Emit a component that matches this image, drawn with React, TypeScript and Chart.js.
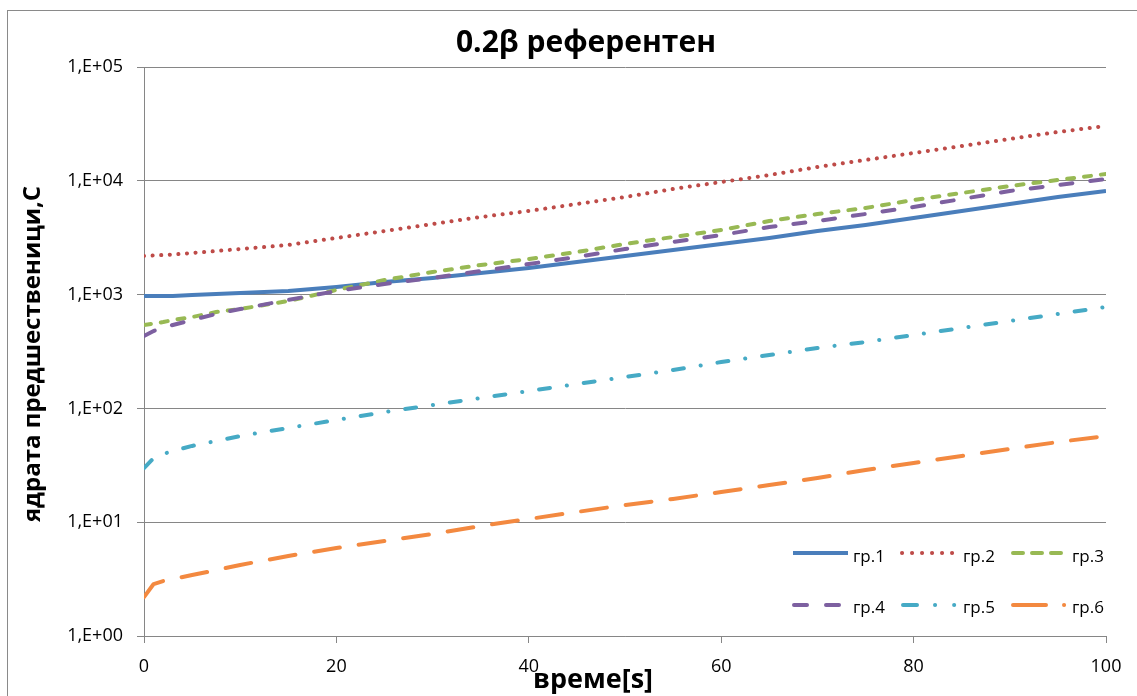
import React, { useEffect, useRef } from "react";
import { Chart, registerables } from "chart.js";

Chart.register(...registerables);

const FONT = '"Open Sans", "Noto Sans", sans-serif';

// ---- texts ----
const chartTitle = "0.2β референтен";
const xAxisTitle = "време[s]";
const yAxisTitle = "ядрата предшественици,C";
const seriesNames = ["гр.1", "гр.2", "гр.3", "гр.4", "гр.5", "гр.6"];

// ---- data ----
const times = [0, 1, 2, 3, 5, 7.5, 10, 15, 20, 25, 30, 35, 40, 45, 50, 55, 60, 65, 70, 75, 80, 85, 90, 95, 100];
const gr1 = [973, 973, 973, 973, 992, 1012, 1032, 1076, 1166, 1291, 1400, 1549, 1714, 1933, 2183, 2466, 2786, 3143, 3620, 4090, 4713, 5428, 6255, 7204, 8136];
const gr2 = [2183, 2208, 2228, 2250, 2321, 2415, 2516, 2728, 3143, 3620, 4171, 4806, 5428, 6255, 7204, 8472, 9756, 11240, 13220, 15230, 17550, 20220, 23300, 26840, 30320];
const gr3 = [541, 557, 574, 598, 635, 703, 747, 879, 1097, 1343, 1580, 1820, 2055, 2367, 2786, 3206, 3696, 4434, 5108, 5768, 6779, 7810, 8998, 10160, 11480];
const gr4 = [433, 479, 509, 541, 598, 676, 747, 897, 1076, 1239, 1400, 1611, 1857, 2140, 2516, 2899, 3340, 3926, 4434, 5108, 5883, 6918, 8136, 9183, 10370];
const gr5 = [29.9, 36.6, 39.7, 42.3, 46.8, 51.7, 57.2, 67.3, 79.1, 92.9, 107.1, 123.4, 142.2, 163.8, 188.7, 217.4, 255.6, 294.5, 339.5, 383.1, 441.4, 508.9, 586.4, 675.6, 778.5];
const gr6 = [2.2, 2.86, 3.04, 3.17, 3.43, 3.8, 4.21, 5.05, 5.93, 6.84, 7.87, 9.26, 10.67, 12.3, 14.17, 16.0, 18.43, 21.23, 24.46, 28.77, 33.14, 38.17, 43.97, 50.65, 57.2];
const seriesValues = [gr1, gr2, gr3, gr4, gr5, gr6];

// ---- ticks ----
const xTicks = [0, 20, 40, 60, 80, 100];
const yTickValues = [1, 10, 100, 1000, 10000, 100000];
const yTickLabels = ["1,E+00", "1,E+01", "1,E+02", "1,E+03", "1,E+04", "1,E+05"];

// ---- styles ----
const seriesStyles = [
  { color: "#4A7EBB", dash: [] as number[], cap: "butt", legendDash: [] as number[], lx0: 793, lx1: 848 },
  { color: "#BE4B48", dash: [0.1, 8.5], cap: "round", legendDash: [0.1, 9.9], lx0: 902, lx1: 953 },
  { color: "#98B954", dash: [7, 10], cap: "round", legendDash: [10, 9], lx0: 1013, lx1: 1061 },
  { color: "#7D60A0", dash: [12, 18], cap: "round", legendDash: [13, 19], lx0: 794, lx1: 840 },
  { color: "#46AAC5", dash: [11, 17, 0.1, 17], cap: "round", legendDash: [14, 18, 0.1, 19, 0.1, 100], lx0: 903, lx1: 960 },
  { color: "#F38940", dash: [26, 19], cap: "round", legendDash: [33, 18, 0.1, 100], lx0: 1013, lx1: 1070 },
];

const GRID = "#868686";

const legendRows = [553, 605];
const legendTextRows = [562, 613];
const legendTextX = [853, 963, 1072];

const overlayPlugin = {
  id: "overlay",
  afterDraw(chart: any) {
    const ctx = chart.ctx as CanvasRenderingContext2D;
    ctx.save();
    ctx.fillStyle = "#000";
    ctx.textAlign = "center";
    ctx.textBaseline = "alphabetic";
    ctx.font = `bold 30px ${FONT}`;
    ctx.fillText(chartTitle, 586, 52);
    ctx.font = `bold 27px ${FONT}`;
    ctx.fillText(xAxisTitle, 593, 688);
    ctx.font = `bold 24px ${FONT}`;
    ctx.save();
    ctx.translate(40, 354);
    ctx.rotate(-Math.PI / 2);
    ctx.fillText(yAxisTitle, 0, 0);
    ctx.restore();

    // legend
    seriesNames.forEach((name, i) => {
      const st = seriesStyles[i];
      const row = Math.floor(i / 3);
      const y = legendRows[row];
      ctx.save();
      ctx.strokeStyle = st.color;
      ctx.lineWidth = 4;
      ctx.lineCap = st.cap as CanvasLineCap;
      ctx.setLineDash(st.legendDash);
      ctx.beginPath();
      ctx.moveTo(st.lx0, y);
      ctx.lineTo(st.lx1, y);
      ctx.stroke();
      ctx.restore();
      ctx.fillStyle = "#000";
      ctx.textAlign = "left";
      ctx.font = `17px ${FONT}`;
      ctx.fillText(name, legendTextX[i % 3], legendTextRows[row]);
    });
    ctx.restore();
  },
};

export default function App() {
  const canvasRef = useRef<HTMLCanvasElement | null>(null);

  useEffect(() => {
    if (!canvasRef.current) return;
    const datasets = seriesValues.map((vals, i) => ({
      label: seriesNames[i],
      data: times.map((t, k) => ({ x: t, y: vals[k] })),
      borderColor: seriesStyles[i].color,
      backgroundColor: seriesStyles[i].color,
      borderWidth: 4,
      borderDash: seriesStyles[i].dash,
      borderCapStyle: seriesStyles[i].cap,
      borderJoinStyle: "round",
      pointRadius: 0,
      tension: 0,
      fill: false,
      order: 6 - i,
    }));

    const chart = new Chart(canvasRef.current, {
      type: "line",
      data: { datasets } as any,
      plugins: [overlayPlugin],
      options: {
        animation: false,
        responsive: false,
        layout: { padding: { top: 67, right: 31, left: 0, bottom: 0 } },
        plugins: { legend: { display: false }, title: { display: false }, tooltip: { enabled: false } },
        scales: {
          x: {
            type: "linear",
            min: 0,
            max: 100,
            afterBuildTicks: (s: any) => {
              s.ticks = xTicks.map((v) => ({ value: v }));
            },
            afterFit: (s: any) => {
              s.height = 60;
            },
            ticks: {
              font: { family: FONT, size: 18 },
              color: "#000",
              padding: 13,
              maxRotation: 0,
              autoSkip: false,
            },
            grid: { drawOnChartArea: false, drawTicks: true, tickLength: 7, color: GRID },
            border: { color: GRID, width: 1 },
          },
          y: {
            type: "logarithmic",
            min: 1,
            max: 100000,
            afterBuildTicks: (s: any) => {
              s.ticks = yTickValues.map((v) => ({ value: v }));
            },
            afterFit: (s: any) => {
              s.width = 144;
            },
            ticks: {
              font: { family: FONT, size: 18 },
              color: "#000",
              padding: 14,
              autoSkip: false,
              callback: (v: any) => {
                const idx = yTickValues.indexOf(Math.round(Number(v)));
                return idx >= 0 ? yTickLabels[idx] : "";
              },
            },
            grid: { color: GRID, tickLength: 7, drawTicks: true },
            border: { color: GRID, width: 1 },
          },
        },
      } as any,
    });
    return () => chart.destroy();
  }, []);

  return (
    <div style={{ position: "fixed", left: 0, top: 0, width: 1137, height: 696, background: "#fff", overflow: "hidden" }}>
      <div
        style={{
          position: "absolute",
          left: 7,
          top: 10,
          width: 1140,
          height: 700,
          border: "1px solid #8a8a8a",
          boxSizing: "border-box",
        }}
      />
      <canvas ref={canvasRef} width={1137} height={696} style={{ position: "absolute", left: 0, top: 0 }} />
    </div>
  );
}
